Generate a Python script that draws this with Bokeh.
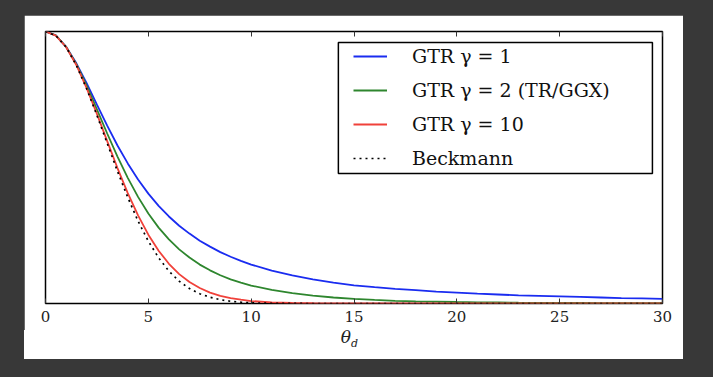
from bokeh.plotting import figure
from bokeh.models import (LinearAxis, Legend, LegendItem, Range1d, Div,
                          FixedTicker, ColumnDataSource, BoxAnnotation)
from bokeh.layouts import column
from bokeh.embed import file_html
from bokeh.resources import INLINE

# ---- data ----
theta = [0, 0.5, 1, 1.5, 2, 2.5, 3, 3.5, 4, 4.5, 5, 5.5, 6, 6.5, 7, 7.5, 8, 8.5,
         9, 9.5, 10, 11, 12, 13, 14, 15, 16, 17, 18, 19, 20, 21, 22, 23, 24, 25,
         26, 27, 28, 29, 30]
gtr1 = [1.000, 0.986, 0.944, 0.883, 0.810, 0.731, 0.654, 0.581, 0.515, 0.456,
        0.404, 0.359, 0.320, 0.286, 0.257, 0.231, 0.209, 0.189, 0.172, 0.157,
        0.143, 0.121, 0.103, 0.089, 0.077, 0.067, 0.060, 0.054, 0.049, 0.044,
        0.040, 0.036, 0.033, 0.030, 0.028, 0.026, 0.024, 0.022, 0.020, 0.019,
        0.017]
gtr2 = [1.000, 0.986, 0.944, 0.880, 0.801, 0.714, 0.625, 0.540, 0.462, 0.392,
        0.331, 0.279, 0.236, 0.199, 0.169, 0.143, 0.122, 0.104, 0.089, 0.077,
        0.066, 0.050, 0.038, 0.029, 0.022, 0.017, 0.013, 0.010, 0.008, 0.007,
        0.0055, 0.0045, 0.0037, 0.0030, 0.0026, 0.0022, 0.0018, 0.0015, 0.0013,
        0.0011, 0.0010]
gtr10 = [1.000, 0.985, 0.943, 0.877, 0.792, 0.697, 0.597, 0.498, 0.406, 0.324,
         0.253, 0.194, 0.146, 0.108, 0.079, 0.057, 0.040, 0.028, 0.020, 0.014,
         0.009, 0.004, 0.002, 0.001, 0.0004, 0.0002, 0.0001, 0, 0, 0,
         0, 0, 0, 0, 0, 0, 0, 0, 0, 0, 0]
beckmann = [1.000, 0.985, 0.943, 0.876, 0.790, 0.692, 0.589, 0.486, 0.390, 0.303,
            0.229, 0.168, 0.119, 0.082, 0.055, 0.036, 0.023, 0.014, 0.008, 0.005,
            0.0025, 0.0007, 0.0002, 0, 0, 0, 0, 0, 0, 0,
            0, 0, 0, 0, 0, 0, 0, 0, 0, 0, 0]
x_ticks = [0, 5, 10, 15, 20, 25, 30]
labels = ["GTR γ = 1", "GTR γ = 2 (TR/GGX)", "GTR γ = 10", "Beckmann"]

src = ColumnDataSource(dict(theta=theta, gtr1=gtr1, gtr2=gtr2, gtr10=gtr10,
                            beckmann=beckmann))

FONT = "DejaVu Serif"

p = figure(width=659, height=315, x_range=Range1d(0, 30), y_range=Range1d(0, 1),
           output_backend="svg", toolbar_location=None,
           x_axis_location=None, y_axis_location=None,
           min_border_left=21, min_border_right=21, min_border_top=16,
           min_border_bottom=27)
p.grid.visible = False
p.outline_line_color = "black"
p.outline_line_width = 1.5
p.background_fill_color = "white"
p.border_fill_color = "white"

bottom = LinearAxis(ticker=FixedTicker(ticks=x_ticks))
top = LinearAxis(ticker=FixedTicker(ticks=x_ticks),
                 major_label_overrides={t: "" for t in x_ticks})
for ax in (bottom, top):
    ax.axis_line_color = None
    ax.major_tick_in = 5
    ax.major_tick_out = 0
    ax.minor_tick_line_color = None
    ax.major_tick_line_color = "#333333"
    ax.major_tick_line_width = 1
bottom.major_label_text_font = FONT
bottom.major_label_text_font_size = "15px"
bottom.major_label_text_color = "#222222"
bottom.major_label_standoff = 7
p.add_layout(bottom, "below")
p.add_layout(top, "above")

r1 = p.line("theta", "gtr1", source=src, line_color="#1a2cf0", line_width=1.8)
r2 = p.line("theta", "gtr2", source=src, line_color="#2e862e", line_width=1.8)
r3 = p.line("theta", "gtr10", source=src, line_color="#f0413a", line_width=1.8)
r4 = p.line("theta", "beckmann", source=src, line_color="black", line_width=1.7,
            line_dash="2 4")

# legend frame (drawn as a box behind the legend entries)
p.add_layout(BoxAnnotation(left=14.24, right=29.51, top=0.9596, bottom=0.4779,
                           fill_color="white", fill_alpha=1,
                           line_color="black", line_alpha=1, line_width=1.5))

legend = Legend(items=[LegendItem(label=l, renderers=[r])
                       for l, r in zip(labels, [r1, r2, r3, r4])],
                location=(308, 134), margin=0, padding=4, spacing=12,
                label_height=20, glyph_height=20, glyph_width=34,
                label_standoff=25, label_text_font=FONT,
                label_text_font_size="19px", label_text_color="#111111",
                border_line_color=None, background_fill_alpha=0)
p.add_layout(legend)

xlabel = Div(text="<i>θ<sub style='font-size:11px'>d</sub></i>",
             width=659, height=29,
             styles={"background-color": "white", "text-align": "center",
                     "font-family": FONT, "font-size": "17px",
                     "line-height": "14px", "color": "#222222",
                     "padding-right": "8px", "box-sizing": "border-box"})

p.margin = (15, 30, 0, 24)
xlabel.margin = (0, 30, 18, 24)
layout = column(p, xlabel, spacing=0,
                styles={"background-color": "#383838"}, width=713, height=377)

open("out.html", "w").write(file_html(layout, INLINE))
